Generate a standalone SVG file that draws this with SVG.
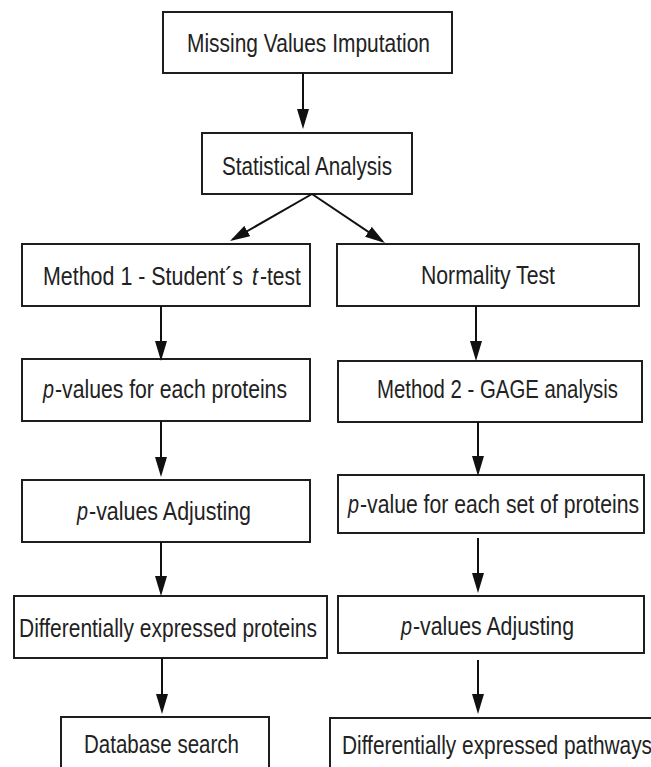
<svg xmlns="http://www.w3.org/2000/svg" width="651" height="767" viewBox="0 0 651 767">
<style>
.box{fill:#fff;stroke:#1e1e1e;stroke-width:2}
.lbl{font-family:"Liberation Sans",Arial,sans-serif;font-size:26.5px;fill:#222}
.it{font-style:italic}
.edge{stroke:#111;stroke-width:2;fill:none;marker-end:url(#ah)}
</style>
<defs>
<marker id="ah" viewBox="0 0 20 12" markerWidth="20" markerHeight="12" refX="17" refY="6" orient="auto" markerUnits="userSpaceOnUse">
<path d="M0,0 L20,6 L0,12 z" fill="#111"/>
</marker>
</defs>
<rect width="651" height="767" fill="#fff"/>
<g id="n1"><rect class="box" x="163" y="12" width="289" height="61"/><text class="lbl" transform="matrix(0.8 0 0 1 187 52)" textLength="303.75" lengthAdjust="spacingAndGlyphs">Missing Values Imputation</text></g>
<g id="n2"><rect class="box" x="202" y="133" width="210" height="61"/><text class="lbl" transform="matrix(0.8 0 0 1 222 175)" textLength="212.5" lengthAdjust="spacingAndGlyphs">Statistical Analysis</text></g>
<g id="n3"><rect class="box" x="22" y="244" width="288" height="62"/><text class="lbl" transform="matrix(0.8 0 0 1 43 285)" textLength="250" lengthAdjust="spacingAndGlyphs">Method 1 - Student´s</text><text class="lbl it" transform="matrix(0.8 0 0 1 252 285)">t</text><text class="lbl" transform="matrix(0.8 0 0 1 260 285)" textLength="51" lengthAdjust="spacingAndGlyphs">-test</text></g>
<g id="n4"><rect class="box" x="337" y="244" width="302" height="62"/><text class="lbl" transform="matrix(0.8 0 0 1 421 284)" textLength="167.5" lengthAdjust="spacingAndGlyphs">Normality Test</text></g>
<g id="n5"><rect class="box" x="22" y="359" width="288" height="62"/><text class="lbl it" transform="matrix(0.8 0 0 1 43 398)" textLength="13.75" lengthAdjust="spacingAndGlyphs">p</text><text class="lbl" transform="matrix(0.8 0 0 1 55 398)" textLength="290" lengthAdjust="spacingAndGlyphs">-values for each proteins</text></g>
<g id="n6"><rect class="box" x="338" y="361" width="304" height="61"/><text class="lbl" transform="matrix(0.8 0 0 1 377 398)" textLength="301.25" lengthAdjust="spacingAndGlyphs">Method 2 - GAGE analysis</text></g>
<g id="n7"><rect class="box" x="22" y="480" width="288" height="62"/><text class="lbl it" transform="matrix(0.8 0 0 1 77 520)" textLength="13.75" lengthAdjust="spacingAndGlyphs">p</text><text class="lbl" transform="matrix(0.8 0 0 1 89 520)" textLength="202.5" lengthAdjust="spacingAndGlyphs">-values Adjusting</text></g>
<g id="n8"><rect class="box" x="338" y="475" width="306" height="58"/><text class="lbl it" transform="matrix(0.8 0 0 1 348 513)" textLength="13.75" lengthAdjust="spacingAndGlyphs">p</text><text class="lbl" transform="matrix(0.8 0 0 1 360 513)" textLength="348.75" lengthAdjust="spacingAndGlyphs">-value for each set of proteins</text></g>
<g id="n9"><rect class="box" x="14" y="596" width="313" height="62"/><text class="lbl" transform="matrix(0.8 0 0 1 19 637)" textLength="372.5" lengthAdjust="spacingAndGlyphs">Differentially expressed proteins</text></g>
<g id="n10"><rect class="box" x="338" y="596" width="306" height="57"/><text class="lbl it" transform="matrix(0.8 0 0 1 401 635)" textLength="13.75" lengthAdjust="spacingAndGlyphs">p</text><text class="lbl" transform="matrix(0.8 0 0 1 413 635)" textLength="201.25" lengthAdjust="spacingAndGlyphs">-values Adjusting</text></g>
<g id="n11"><rect class="box" x="61" y="717" width="208" height="80"/><text class="lbl" transform="matrix(0.8 0 0 1 84 753)" textLength="193.75" lengthAdjust="spacingAndGlyphs">Database search</text></g>
<g id="n12"><rect class="box" x="330" y="718" width="340" height="80"/><text class="lbl" transform="matrix(0.8 0 0 1 342 754)" textLength="387.5" lengthAdjust="spacingAndGlyphs">Differentially expressed pathways</text></g>
<g id="edges">
<line class="edge" x1="303" y1="73" x2="303" y2="126"/>
<line class="edge" x1="312" y1="194" x2="232.6" y2="239.5"/>
<line class="edge" x1="312" y1="194" x2="382.5" y2="241.3"/>
<line class="edge" x1="161" y1="306" x2="161" y2="358"/>
<line class="edge" x1="476" y1="306" x2="476" y2="358"/>
<line class="edge" x1="161" y1="421" x2="161" y2="474"/>
<line class="edge" x1="478" y1="422" x2="478" y2="473"/>
<line class="edge" x1="161" y1="542" x2="161" y2="593"/>
<line class="edge" x1="478" y1="538" x2="478" y2="590"/>
<line class="edge" x1="162" y1="658" x2="162" y2="711"/>
<line class="edge" x1="478" y1="660" x2="478" y2="711"/>
</g>
</svg>
